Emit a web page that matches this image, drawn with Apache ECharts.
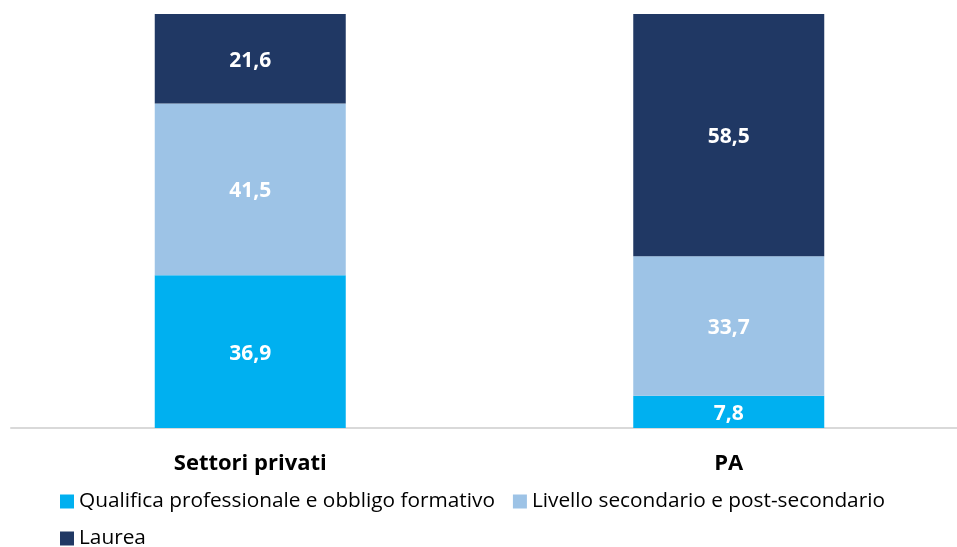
<!DOCTYPE html>
<html>
<head>
<meta charset="utf-8">
<script src="https://cdn.jsdelivr.net/npm/echarts@6/dist/echarts.min.js"></script>
<style>
  html, body { margin: 0; padding: 0; background: #fff; }
  #main { width: 957px; height: 547px; }
</style>
</head>
<body>
<div id="main"></div>
<script>
// dati
var categorie = ["Settori privati", "PA"];
var qualifica = [36.9, 7.8];
var secondario = [41.5, 33.7];
var laurea = [21.6, 58.5];
var nomiSerie = ["Qualifica professionale e obbligo formativo", "Livello secondario e post-secondario", "Laurea"];

var FONT = "Open Sans";

function etichetta(p) {
  return String(p.value).replace(".", ",");
}

var chart = echarts.init(document.getElementById("main"));

function serie(nome, dati, colore) {
  return {
    name: nome,
    type: "bar",
    stack: "tot",
    data: dati,
    barWidth: 191,
    itemStyle: { color: colore },
    label: {
      show: true,
      position: "inside",
      offset: [0, 2],
      color: "#fff",
      fontFamily: FONT,
      fontWeight: "bold",
      fontSize: 21,
      formatter: etichetta
    }
  };
}

chart.setOption({
  animation: false,
  grid: { left: 11, right: -11, top: 14, bottom: 119, outerBoundsMode: "none" },
  legend: [{
    data: [nomiSerie[0], nomiSerie[1]],
    left: 55, top: 486,
    icon: "rect", itemWidth: 14, itemHeight: 14, itemGap: 18,
    textStyle: { fontFamily: FONT, fontSize: 20.8, color: "#000" }
  }, {
    data: [nomiSerie[2]],
    left: 55, top: 523,
    icon: "rect", itemWidth: 14, itemHeight: 14,
    textStyle: { fontFamily: FONT, fontSize: 20.8, color: "#000" }
  }],
  xAxis: {
    type: "category",
    data: categorie,
    axisLine: { lineStyle: { color: "#d9d9d9", width: 2 } },
    axisTick: { show: false },
    axisLabel: {
      margin: 25,
      color: "#000",
      fontFamily: FONT,
      fontWeight: "bold",
      fontSize: 22
    }
  },
  yAxis: {
    type: "value",
    min: 0, max: 100,
    show: false,
    splitLine: { show: false }
  },
  series: [
    serie(nomiSerie[0], qualifica, "#00b0f0"),
    serie(nomiSerie[1], secondario, "#9dc3e6"),
    serie(nomiSerie[2], laurea, "#203864")
  ]
});
</script>
</body>
</html>
